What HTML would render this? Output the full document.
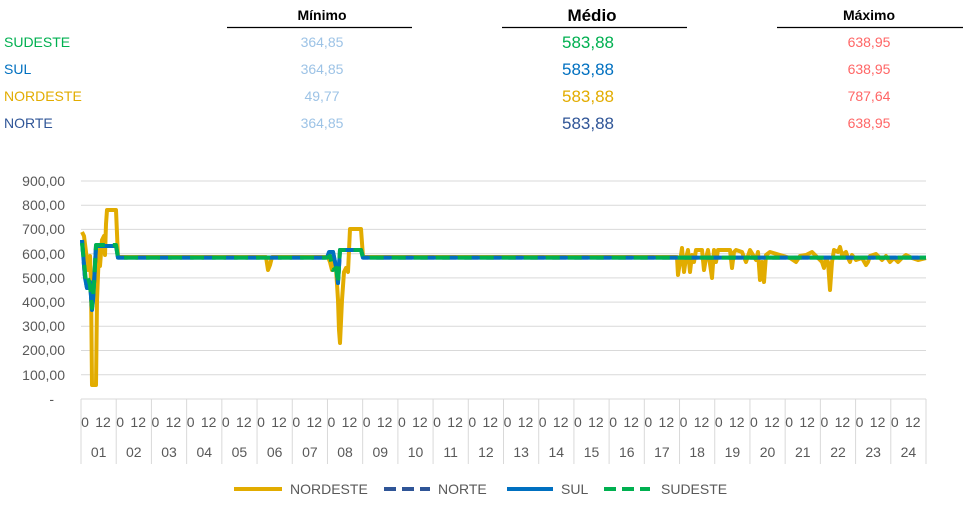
<!DOCTYPE html>
<html><head><meta charset="utf-8"><style>
body{margin:0;background:#fff;width:963px;height:512px;overflow:hidden;font-family:"Liberation Sans",Arial,sans-serif;}
svg{position:absolute;left:0;top:0}
</style></head><body>
<svg width="963" height="512" viewBox="0 0 963 512" font-family="Liberation Sans, Arial, sans-serif">
<text x="322" y="20" font-size="14" font-weight="bold" text-anchor="middle">Mínimo</text>
<line x1="227" y1="27.5" x2="412" y2="27.5" stroke="#000" stroke-width="1.3"/>
<text x="592" y="21" font-size="17" font-weight="bold" text-anchor="middle">Médio</text>
<line x1="502" y1="27.5" x2="687" y2="27.5" stroke="#000" stroke-width="1.3"/>
<text x="869" y="20" font-size="14" font-weight="bold" text-anchor="middle">Máximo</text>
<line x1="777" y1="27.5" x2="963" y2="27.5" stroke="#000" stroke-width="1.3"/>
<g font-size="14">
<text x="4" y="47" fill="#00b050">SUDESTE</text>
<text x="4" y="74" fill="#0070c0">SUL</text>
<text x="4" y="101" fill="#e2ac00">NORDESTE</text>
<text x="4" y="128" fill="#2f5597">NORTE</text>
<g fill="#9dc3e6" text-anchor="middle">
<text x="322" y="47">364,85</text><text x="322" y="74">364,85</text><text x="322" y="101">49,77</text><text x="322" y="128">364,85</text></g>
<g font-size="17" text-anchor="middle">
<text x="588" y="48" fill="#00b050">583,88</text><text x="588" y="75" fill="#0070c0">583,88</text><text x="588" y="102" fill="#e2ac00">583,88</text><text x="588" y="129" fill="#2f5597">583,88</text></g>
<g fill="#ff6666" text-anchor="middle">
<text x="869" y="47">638,95</text><text x="869" y="74">638,95</text><text x="869" y="101">787,64</text><text x="869" y="128">638,95</text></g>
</g>
<g stroke="#d9d9d9" stroke-width="1">
<line x1="81" y1="181" x2="926" y2="181"/><line x1="81" y1="205.2" x2="926" y2="205.2"/>
<line x1="81" y1="229.4" x2="926" y2="229.4"/><line x1="81" y1="253.7" x2="926" y2="253.7"/>
<line x1="81" y1="277.9" x2="926" y2="277.9"/><line x1="81" y1="302.1" x2="926" y2="302.1"/>
<line x1="81" y1="326.3" x2="926" y2="326.3"/><line x1="81" y1="350.5" x2="926" y2="350.5"/>
<line x1="81" y1="374.8" x2="926" y2="374.8"/><line x1="81" y1="399" x2="926" y2="399"/>
</g>
<g font-size="14" fill="#595959" text-anchor="end">
<text x="65" y="186">900,00</text><text x="65" y="210">800,00</text><text x="65" y="234">700,00</text>
<text x="65" y="259">600,00</text><text x="65" y="283">500,00</text><text x="65" y="307">400,00</text>
<text x="65" y="331">300,00</text><text x="65" y="355">200,00</text><text x="65" y="380">100,00</text>
<text x="54" y="404">-</text></g>
<g id="xa" stroke="#d9d9d9" stroke-width="1"></g>
<g id="xl" font-size="14" fill="#595959" text-anchor="middle"></g>
<polyline fill="none" stroke="#e2ac00" stroke-width="4" stroke-linejoin="round" points="
82,232 84,236 86,252 88,270 90,256 91,282 92,385 96,385 97,300 99,250 100,266 102,240 104,236 105,255 106,224 107,210 116,210 118,257 266,257 268,270 270,265 272,257 328,257 330,262 332,270 334,262 336,268 338,300 339,330 340,343 342,300 344,272 346,268 348,272 350,229 361,229 363,257
677,257 678,275 680,262 682,248 684,272 686,258 688,250 690,272 692,255 694,262 696,250 702,250 704,270 706,258 708,250 712,278 714,250 716,262 718,250 730,250 732,268 734,252 736,250 742,252 746,262 750,250 756,260 758,252 760,280 762,262 764,282 766,255 770,252 780,255 790,258 796,262 800,256 806,255 812,252 818,258 822,262 824,268 826,258 828,262 830,290 832,262 834,250 838,252 840,247 842,255 846,252 848,258 850,262 852,255 856,260 862,258 866,265 868,262 870,256 876,254 882,260 886,256 890,262 894,258 898,262 902,258 906,255 912,258 918,260 926,258"/>
<polyline fill="none" stroke="#2f5597" stroke-width="4" stroke-dasharray="14,8" stroke-linejoin="round" points="
82,240 85,278 87,288 89,288 90,282 92,310 93,300 94,284 96,246 116,246 118,257.6 327,257.6 329,252 333,252 335,262 337,272 338,283 340,250 361,250 363,257.6 926,257.6"/>
<polyline fill="none" stroke="#0070c0" stroke-width="4" stroke-linejoin="round" points="
82,240 85,278 87,288 89,288 90,282 92,310 93,300 94,284 96,246 116,246 118,257.6 327,257.6 329,252 333,252 335,262 337,272 338,283 340,250 361,250 363,257.6 926,257.6"/>
<polyline fill="none" stroke="#00b050" stroke-width="4" stroke-dasharray="14,8" stroke-linejoin="round" points="
82,243 84,262 86,282 88,278 90,285 92,308 94,284 96,245 116,245 118,257.6 327,257.6 330,256 333,270 336,268 338,283 340,250 361,250 363,257.6 926,257.6"/>
<line x1="234" y1="489" x2="282" y2="489" stroke="#e2ac00" stroke-width="4"/>
<text x="290" y="494" font-size="14" fill="#595959">NORDESTE</text>
<line x1="384" y1="489" x2="430" y2="489" stroke="#2f5597" stroke-width="4" stroke-dasharray="12,6"/>
<text x="438" y="494" font-size="14" fill="#595959">NORTE</text>
<line x1="507" y1="489" x2="553" y2="489" stroke="#0070c0" stroke-width="4"/>
<text x="561" y="494" font-size="14" fill="#595959">SUL</text>
<line x1="604" y1="489" x2="650" y2="489" stroke="#00b050" stroke-width="4" stroke-dasharray="12,6"/>
<text x="661" y="494" font-size="14" fill="#595959">SUDESTE</text>
</svg>
<script>
var ns="http://www.w3.org/2000/svg",xa=document.getElementById('xa'),xl=document.getElementById('xl');
function el(p,t,a,txt){var e=document.createElementNS(ns,t);for(var k in a)e.setAttribute(k,a[k]);if(txt)e.textContent=txt;p.appendChild(e);}
var w=(926-81)/24;
for(var i=0;i<=24;i++){var x=81+i*w;el(xa,'line',{x1:x,y1:399,x2:x,y2:464});}
for(var i=0;i<24;i++){var x=81+i*w;
el(xl,'text',{x:x+4,y:427},'0');el(xl,'text',{x:x+22,y:427},'12');
var d=(i+1<10?'0':'')+(i+1);el(xl,'text',{x:x+w/2,y:457},d);}
</script>
</body></html>
